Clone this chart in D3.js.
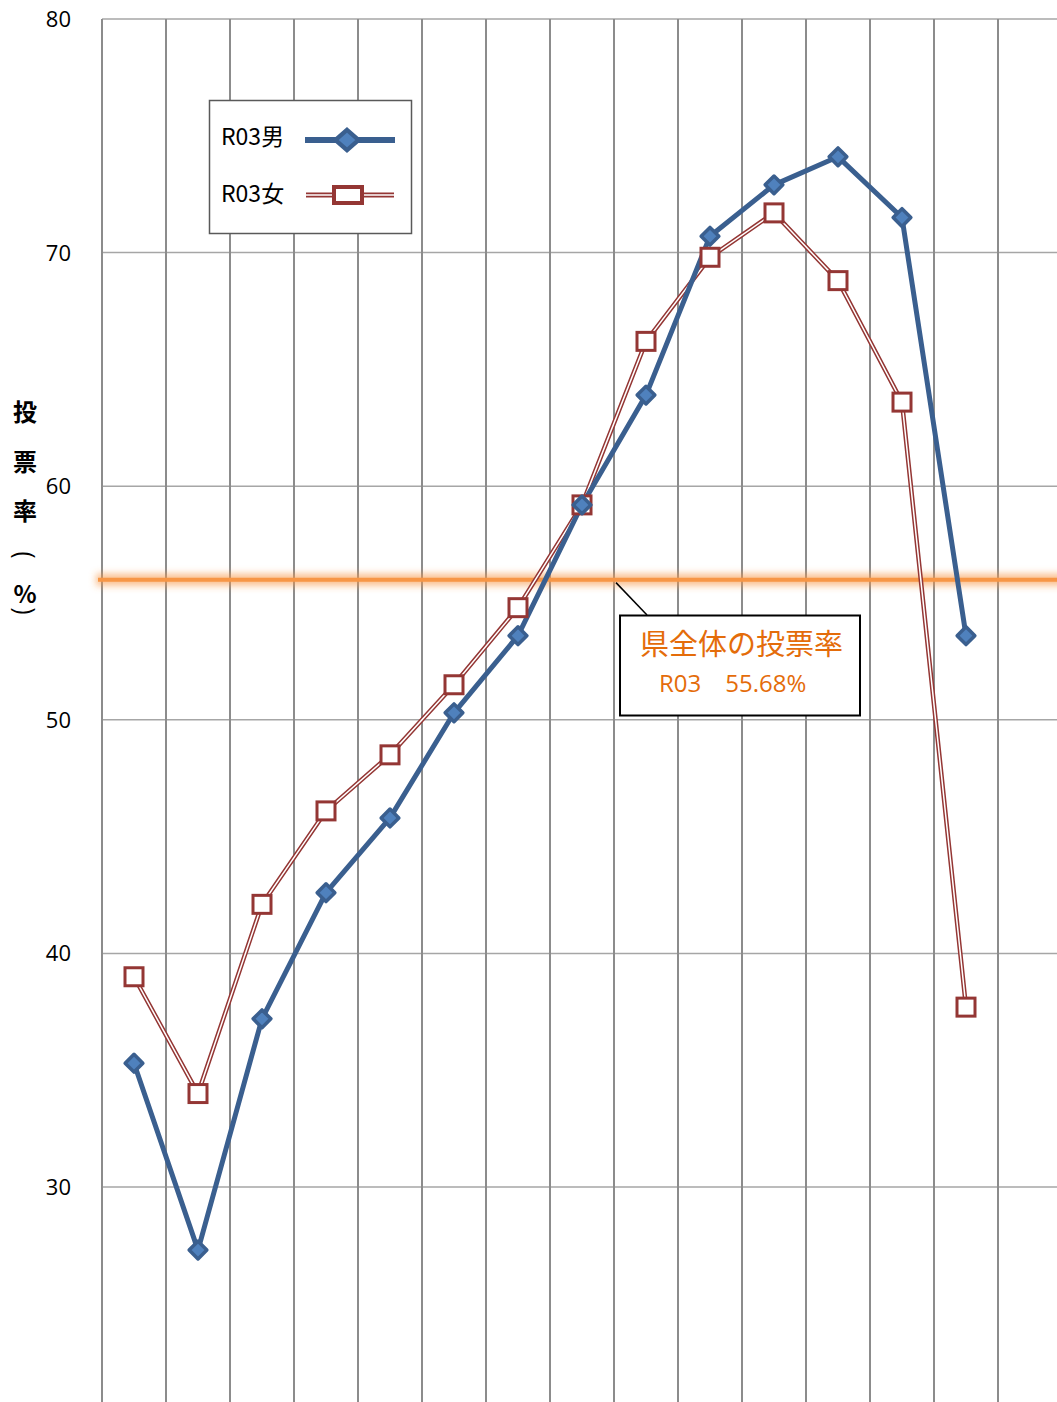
<!DOCTYPE html>
<html>
<head>
<meta charset="utf-8">
<script src="https://cdn.jsdelivr.net/npm/d3@7"></script>
<style>
  body { margin: 0; background: #fff; }
  svg { display: block; }
  text { font-family: "Open Sans", "Noto Sans CJK JP", sans-serif; }
  .jp { font-family: "Noto Sans CJK JP", sans-serif; }
</style>
</head>
<body>
<div id="chart"></div>
<script>
// Age groups (the axis labels fall below the visible area)
const AGES = ["18歳", "19歳", "20-24", "25-29", "30-34", "35-39", "40-44", "45-49",
  "50-54", "55-59", "60-64", "65-69", "70-74", "75-79", "80以上"];

// Turnout (%)
const MALE = [35.3, 27.3, 37.2, 42.6, 45.8, 50.3, 53.6, 59.2, 63.9, 70.7, 72.9, 74.1, 71.5, 53.6];
const FEMALE = [39.0, 34.0, 42.1, 46.1, 48.5, 51.5, 54.8, 59.2, 66.2, 69.8, 71.7, 68.8, 63.6, 37.7];

const Y_TICKS = [30, 40, 50, 60, 70, 80];
const PREF_RATE = 56.0;           // where the orange line sits
const PREF_LABEL = ["県全体の投票率", "R03\u300055.68%"];
const SERIES_NAMES = ["R03男", "R03女"];
const Y_LABEL = ["投", "票", "率", "(", "%", ")"];

const W = 1057, H = 1402;
const margin = { top: 19, left: 102 };
const MALE_COLOR = "#3a5f8f", MALE_FILL = "#4f81bd", FEMALE_COLOR = "#943634", ORANGE = "#f79646";

const svg = d3.select("#chart").append("svg")
  .attr("width", W).attr("height", H);

const x = d3.scaleBand()
  .domain(AGES)
  .range([margin.left, margin.left + 64 * AGES.length]);

const y = d3.scaleLinear()
  .domain([20, 80])
  .range([1420.6, margin.top]);

// horizontal gridlines
svg.append("g")
  .selectAll("line")
  .data(Y_TICKS)
  .join("line")
    .attr("x1", margin.left).attr("x2", W)
    .attr("y1", d => y(d)).attr("y2", d => y(d))
    .attr("stroke", "#a6a6a6").attr("stroke-width", 1.5);

// vertical gridlines (category boundaries)
svg.append("g")
  .selectAll("line")
  .data(AGES)
  .join("line")
    .attr("x1", d => x(d)).attr("x2", d => x(d))
    .attr("y1", margin.top).attr("y2", H)
    .attr("stroke", "#8c8c8c").attr("stroke-width", 2);

// y tick labels
svg.append("g")
  .selectAll("text")
  .data(Y_TICKS)
  .join("text")
    .attr("x", 71).attr("y", d => y(d) + 8)
    .attr("text-anchor", "end")
    .attr("font-size", 22)
    .attr("fill", "#000")
    .text(d => d);

// y axis title, one glyph per row; brackets turned for vertical writing
const isBracket = d => d === "(" || d === ")";
const labelY = [421, 471, 520, 555, 603, 611];
const title = svg.append("g");
Y_LABEL.forEach((d, i) => {
  if (isBracket(d)) {
    title.append("g")
      .attr("transform", `translate(25,${labelY[i]}) rotate(90)`)
      .append("text")
        .attr("x", 0).attr("y", 9)
        .attr("text-anchor", "middle")
        .attr("font-family", "DejaVu Sans")
        .attr("font-size", 24)
        .attr("transform", "scale(1,1.1)")
        .text(d);
  } else {
    title.append("text")
      .attr("class", "jp")
      .attr("x", 25).attr("y", labelY[i])
      .attr("text-anchor", "middle")
      .attr("font-size", 24)
      .attr("font-weight", 600)
      .text(d);
  }
});

// prefecture-wide turnout line with soft glow
const defs = svg.append("defs");
defs.append("filter").attr("id", "glow")
  .attr("filterUnits", "userSpaceOnUse")
  .attr("x", 0).attr("y", 0).attr("width", W).attr("height", H)
  .append("feGaussianBlur").attr("stdDeviation", 3.5);

svg.append("line")
  .attr("x1", 96).attr("x2", W + 20)
  .attr("y1", y(PREF_RATE)).attr("y2", y(PREF_RATE))
  .attr("stroke", ORANGE).attr("stroke-opacity", 0.6).attr("stroke-width", 12)
  .attr("filter", "url(#glow)");
svg.append("line")
  .attr("x1", 98).attr("x2", W)
  .attr("y1", y(PREF_RATE)).attr("y2", y(PREF_RATE))
  .attr("stroke", ORANGE).attr("stroke-width", 4);

const cx = (d, i) => x(AGES[i]) + x.bandwidth() / 2;

// female series: double line (red with white core)
const line = d3.line().x(cx).y(d => y(d));
svg.append("path")
  .attr("d", line(FEMALE))
  .attr("fill", "none").attr("stroke", FEMALE_COLOR).attr("stroke-width", 4.5);
svg.append("path")
  .attr("d", line(FEMALE))
  .attr("fill", "none").attr("stroke", "#fff").attr("stroke-width", 1.5);

// male series
svg.append("path")
  .attr("d", line(MALE))
  .attr("fill", "none").attr("stroke", MALE_COLOR).attr("stroke-width", 5)
  .attr("stroke-linejoin", "round");

svg.append("g")
  .selectAll("rect")
  .data(FEMALE)
  .join("rect")
    .attr("x", (d, i) => cx(d, i) - 9)
    .attr("y", d => y(d) - 9)
    .attr("width", 18).attr("height", 18)
    .attr("fill", "#fff").attr("stroke", FEMALE_COLOR).attr("stroke-width", 3);

const diamond = d3.symbol().type(d3.symbolDiamond2).size(200);
svg.append("g")
  .selectAll("path")
  .data(MALE)
  .join("path")
    .attr("transform", (d, i) => `translate(${cx(d, i)},${y(d)})`)
    .attr("d", diamond)
    .attr("fill", MALE_FILL).attr("stroke", MALE_COLOR).attr("stroke-width", 3.5)
    .attr("stroke-linejoin", "round");

// legend
const legend = svg.append("g");
legend.append("rect")
  .attr("x", 209.5).attr("y", 100.5).attr("width", 202).attr("height", 133)
  .attr("fill", "#fff").attr("stroke", "#595959").attr("stroke-width", 1.5);
legend.append("text").attr("class", "jp")
  .attr("x", 221).attr("y", 145).attr("font-size", 23).text(SERIES_NAMES[0]);
legend.append("text").attr("class", "jp")
  .attr("x", 221).attr("y", 202).attr("font-size", 23).text(SERIES_NAMES[1]);
legend.append("line")
  .attr("x1", 305).attr("x2", 395).attr("y1", 140).attr("y2", 140)
  .attr("stroke", MALE_COLOR).attr("stroke-width", 6);
legend.append("path")
  .attr("transform", "translate(347,140) scale(1.15,1)")
  .attr("d", d3.symbol().type(d3.symbolDiamond2).size(260))
  .attr("fill", MALE_FILL).attr("stroke", MALE_COLOR).attr("stroke-width", 4);
legend.append("line")
  .attr("x1", 306).attr("x2", 394).attr("y1", 195).attr("y2", 195)
  .attr("stroke", FEMALE_COLOR).attr("stroke-width", 5);
legend.append("line")
  .attr("x1", 306).attr("x2", 394).attr("y1", 195).attr("y2", 195)
  .attr("stroke", "#fff").attr("stroke-width", 1.5);
legend.append("rect")
  .attr("x", 334).attr("y", 187).attr("width", 28).attr("height", 16)
  .attr("fill", "#fff").attr("stroke", FEMALE_COLOR).attr("stroke-width", 4);

// annotation callout
svg.append("line")
  .attr("x1", 616).attr("y1", y(PREF_RATE) + 3).attr("x2", 647).attr("y2", 615)
  .attr("stroke", "#000").attr("stroke-width", 1.5);
svg.append("rect")
  .attr("x", 620).attr("y", 615.5).attr("width", 240).attr("height", 100)
  .attr("fill", "#fff").attr("stroke", "#000").attr("stroke-width", 2);
svg.append("text").attr("class", "jp")
  .attr("x", 640).attr("y", 655).attr("font-size", 29).attr("fill", "#e46c0a")
  .text(PREF_LABEL[0]);
svg.append("text")
  .attr("x", 659).attr("y", 692).attr("font-size", 24).attr("fill", "#e46c0a")
  .text(PREF_LABEL[1]);
</script>
</body>
</html>
